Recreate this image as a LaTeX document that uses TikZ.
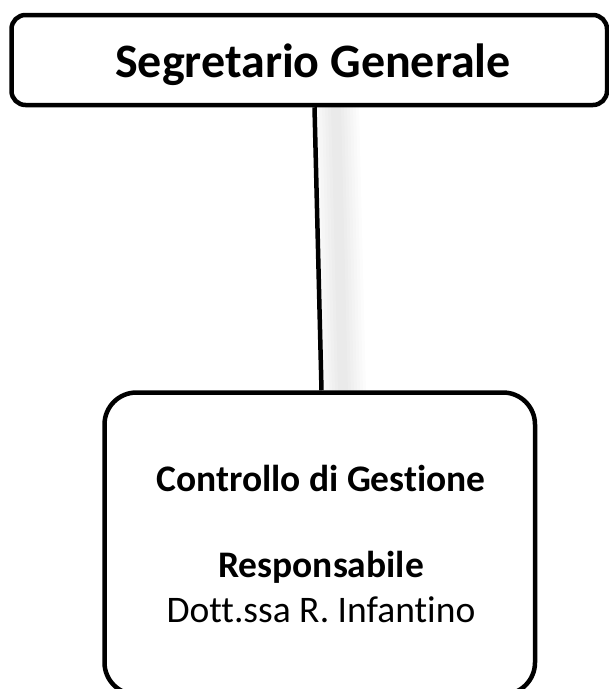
\documentclass[tikz,border=0pt]{standalone}
\usepackage{fontspec}
\setmainfont{Carlito}[Ligatures={NoCommon,NoContextual}]
\usetikzlibrary{calc}
\tikzset{
  orgbox/.style={draw=black, line width=4.5pt, fill=white, inner sep=0pt},
  conn/.style={draw=black, line width=4.5pt},
  shadowline/.style={draw=black, opacity=0.012}
}
\begin{document}
\begin{tikzpicture}[x=1pt,y=-1pt]
\useasboundingbox (0,0) rectangle (609,689);
% soft shadow of the connector
\foreach \w in {46,40,34,28,22,16,10}{
  \draw[shadowline, line width=\w pt] (336,106) -- (343,392);
}
\node[orgbox, rounded corners=14pt, minimum width=595.5pt, minimum height=90pt] (top) at (309.25,60) {};
\node[orgbox, rounded corners=32pt, minimum width=430.5pt, minimum height=302pt] (bot) at (319.75,543.5) {};
\node[anchor=base, inner sep=0pt, font=\fontsize{48}{58}\selectfont\bfseries] (toptext) at (313,77) {Segretario Generale};
\node[anchor=base, inner sep=0pt, font=\fontsize{37.5}{45}\selectfont\bfseries] (t1) at (321,491) {Controllo di Gestione};
\node[anchor=base, inner sep=0pt, font=\fontsize{37.5}{45}\selectfont\bfseries] (t2) at (321,577) {Responsabile};
\node[anchor=base, inner sep=0pt, font=\fontsize{37.5}{45}\selectfont] (t3) at (321,622) {Dott.ssa R. Infantino};
\draw[conn] ([xshift=5.25pt]top.south) -- ([xshift=1.75pt]bot.north);
\end{tikzpicture}
\end{document}
